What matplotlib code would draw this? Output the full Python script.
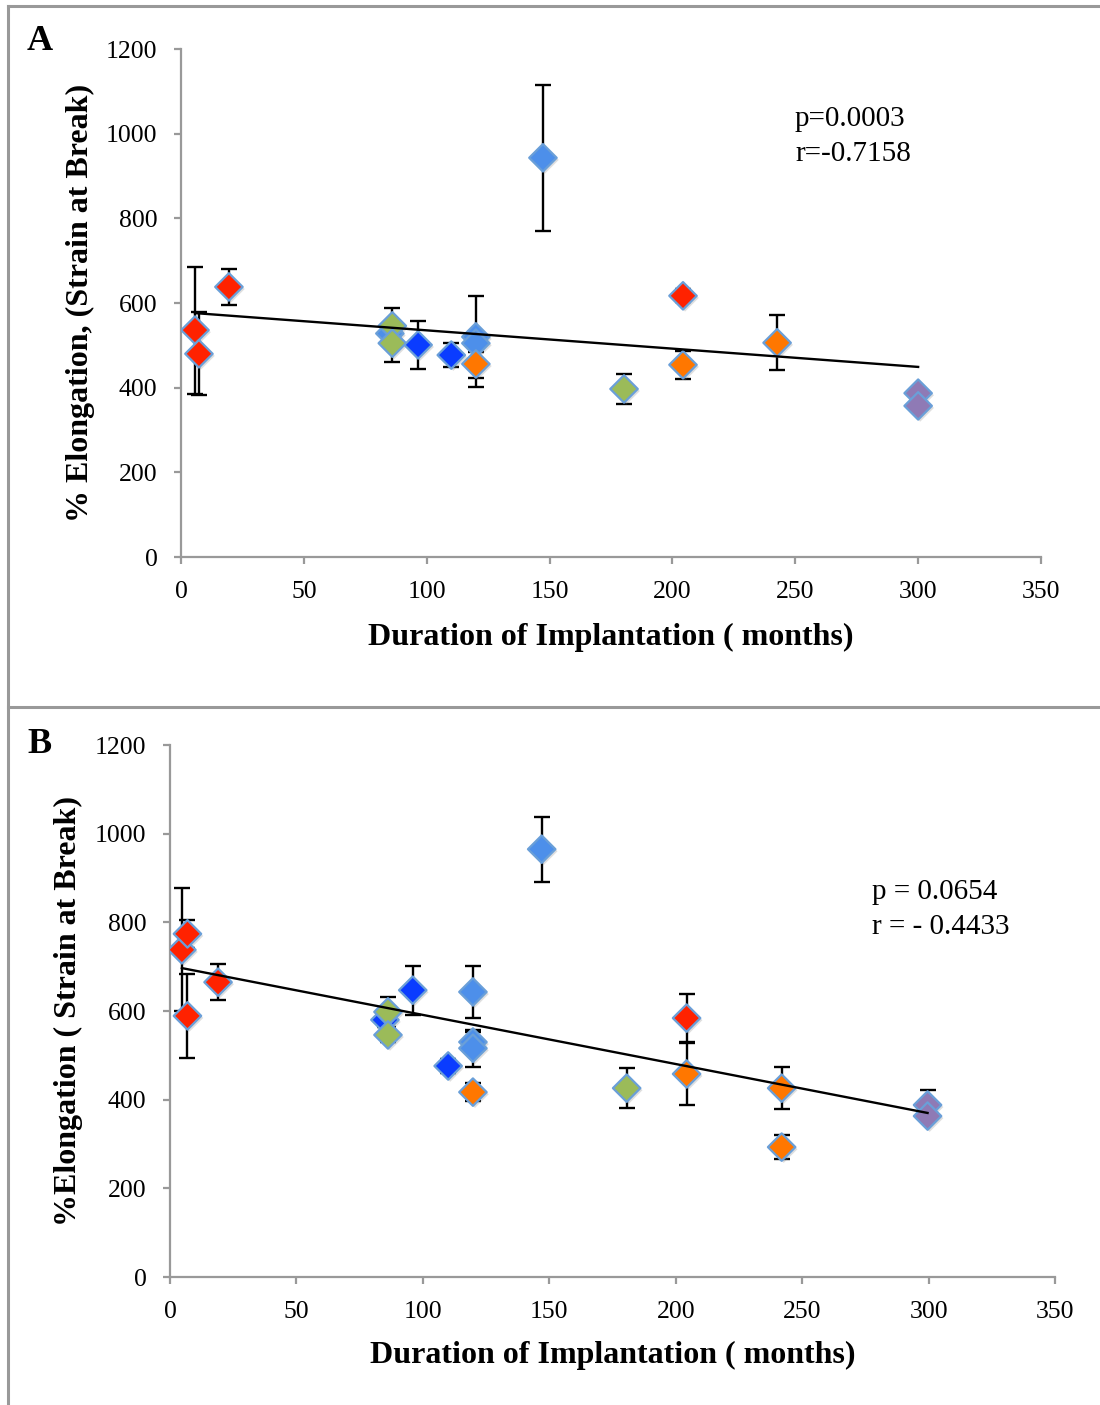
import numpy as np
import matplotlib
matplotlib.use('Agg')
import matplotlib.pyplot as plt
import matplotlib.patheffects as pe

plt.rcParams['font.family'] = ['Liberation Serif', 'DejaVu Serif']

COLORS = {'red': '#FF2200', 'dblue': '#0A3CFF', 'lblue': '#4D8FEA',
          'green': '#9BBB59', 'orange': '#FF7700', 'purple': '#8F7AB5'}
EDGE = '#6A9FD8'

# --- Panel A: elongation vs duration
a_months = [5.7, 7.3, 19.5, 85, 86, 86, 96.5, 110, 120, 120, 120, 147.3,
            180.3, 204.3, 204.3, 242.6, 300, 300]
a_elong = [536, 480, 638, 528, 546, 505, 501, 477, 520, 505, 456, 943,
           397, 617, 454, 506, 387, 357]
a_err = [150, 98, 43, 10, 42, 45, 57, 29, 97, 20, 54, 172,
         36, 15, 33, 65, 12, 10]
a_group = ['red', 'red', 'red', 'lblue', 'green', 'green', 'dblue', 'dblue',
           'lblue', 'lblue', 'orange', 'lblue', 'green', 'red', 'orange',
           'orange', 'purple', 'purple']
a_fit = (578.6, -0.432)   # intercept, slope
a_stats = 'p=0.0003\nr=-0.7158'

# --- Panel B
b_months = [4.7, 6.9, 6.9, 19, 85, 86.2, 86.2, 96, 110, 119.8, 119.8, 119.8,
            119.8, 147, 180.6, 204.3, 204.3, 241.9, 241.9, 299.6, 299.6]
b_elong = [738, 774, 589, 665, 580, 598, 546, 647, 476, 643, 530, 516,
           417, 965, 426, 584, 458, 426, 293, 388, 363]
b_err = [139, 31, 95, 40, 15, 34, 15, 55, 15, 59, 23, 42,
         20, 73, 45, 55, 70, 47, 27, 34, 10]
b_group = ['red', 'red', 'red', 'red', 'dblue', 'green', 'green', 'dblue',
           'dblue', 'lblue', 'lblue', 'lblue', 'orange', 'lblue', 'green',
           'red', 'orange', 'orange', 'orange', 'purple', 'purple']
b_fit = (702.0, -1.108)
b_stats = 'p = 0.0654\nr = - 0.4433'

W, H = 1100, 1405
fig = plt.figure(figsize=(W / 100, H / 100), dpi=100)
fig.patch.set_facecolor('white')


def px(x0, y0, x1, y1):
    return [x0 / W, 1 - y1 / H, (x1 - x0) / W, (y1 - y0) / H]


def panel(rect, months, elong, err, group, fit, stats, stats_xy, ylab,
          ylab_x, xlab_y):
    ax = fig.add_axes(rect)
    ax.errorbar(months, elong, yerr=err, fmt='none', ecolor='black',
                elinewidth=1.7, capsize=5.5, capthick=1.7, zorder=2)
    ax.scatter(months, elong, marker='D', s=14 ** 2,
               c=[COLORS[g] for g in group], edgecolors=EDGE, linewidths=1.6,
               zorder=3,
               path_effects=[pe.SimplePatchShadow(offset=(1.5, -1.5), shadow_rgbFace='gray', alpha=0.25),
                             pe.Normal()])
    xs = np.array([min(months), max(months)])
    ax.plot(xs, fit[0] + fit[1] * xs, color='black', lw=1.7, zorder=4)

    ax.set_xlim(0, 350)
    ax.set_ylim(0, 1200)
    ax.set_xticks(range(0, 351, 50))
    ax.set_yticks(range(0, 1201, 200))
    for s in ['top', 'right']:
        ax.spines[s].set_visible(False)
    for s in ['left', 'bottom']:
        ax.spines[s].set_color('#999999')
        ax.spines[s].set_linewidth(1.6)
    ax.tick_params(direction='out', length=5, width=1.6, color='#999999',
                   labelsize=18.5, pad=12)
    ax.set_ylabel(ylab, fontsize=23, fontweight='bold')
    ax.yaxis.set_label_coords(ylab_x, 0.5)
    ax.set_xlabel('Duration of Implantation ( months)', fontsize=23,
                  fontweight='bold', va='top')
    ax.xaxis.set_label_coords(0.5, xlab_y)
    ax.text(stats_xy[0], stats_xy[1], stats, transform=ax.transAxes,
            fontsize=21, va='top', linespacing=1.45)
    return ax


panel(px(181, 49, 1041, 557), a_months, a_elong, a_err, a_group, a_fit,
      a_stats, (0.714, 0.888), '% Elongation, (Strain at Break)', -0.100, -0.13)
panel(px(170, 745, 1055, 1277), b_months, b_elong, b_err, b_group, b_fit,
      b_stats, (0.793, 0.748), '%Elongation ( Strain at Break)', -0.098, -0.12)

fig.text(27 / W, 1 - 42 / H, 'A', fontsize=26, fontweight='bold', va='center')
fig.text(27 / W, 1 - 745 / H, 'B', fontsize=26, fontweight='bold', va='center')

# panel frame lines
frame = dict(color='#999999', lw=2.2, transform=fig.transFigure)
fig.add_artist(plt.Line2D([8 / W, 1], [1 - 6 / H, 1 - 6 / H], **frame))
fig.add_artist(plt.Line2D([8 / W, 1], [1 - 707 / H, 1 - 707 / H], **frame))
fig.add_artist(plt.Line2D([8 / W, 8 / W], [0, 1 - 6 / H], **frame))

fig.savefig('out.png', dpi=100)
